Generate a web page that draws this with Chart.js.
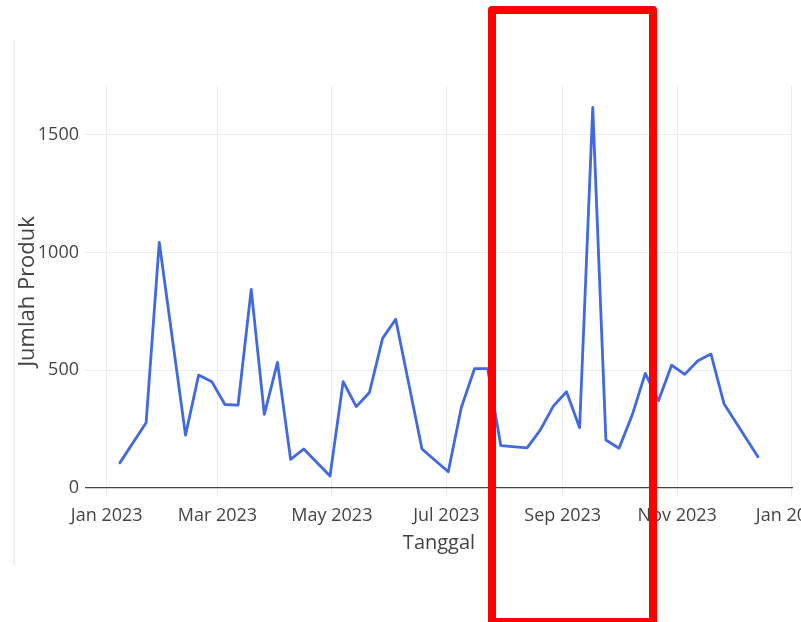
<!DOCTYPE html>
<html>
<head>
<meta charset="utf-8">
<script src="https://cdn.jsdelivr.net/npm/chart.js@4.4.1/dist/chart.umd.min.js"></script>
<style>
  html, body { margin: 0; padding: 0; background: #fff; overflow: hidden; width: 801px; height: 622px; }
  #wrap { position: absolute; left: 0; top: 0; width: 850px; height: 622px; }
  #leftline { position: absolute; left: 13px; top: 40px; width: 2px; height: 525px; background: #f1f1f1; }
  #highlight { position: absolute; left: 488px; top: 6px; width: 169px; height: 620px; box-sizing: border-box; border: 8px solid #ff0000; border-radius: 4px; pointer-events: none; }
</style>
</head>
<body>
<div id="leftline"></div>
<div id="wrap"><canvas id="c" width="850" height="622"></canvas></div>
<div id="highlight"></div>
<script>
// ---- data ----
const dates = [
  "2023-01-08","2023-01-22","2023-01-29","2023-02-12","2023-02-19","2023-02-26",
  "2023-03-05","2023-03-12","2023-03-19","2023-03-26","2023-04-02","2023-04-09",
  "2023-04-16","2023-04-30","2023-05-07","2023-05-14","2023-05-21","2023-05-28",
  "2023-06-04","2023-06-18","2023-07-02","2023-07-09","2023-07-16","2023-07-23",
  "2023-07-30","2023-08-13","2023-08-20","2023-08-27","2023-09-03","2023-09-10",
  "2023-09-17","2023-09-24","2023-10-01","2023-10-08","2023-10-15","2023-10-22",
  "2023-10-29","2023-11-05","2023-11-12","2023-11-19","2023-11-26","2023-12-14"
];
const jumlahProduk = [
  107, 277, 1044, 225, 480, 452,
  355, 352, 844, 313, 534, 122,
  166, 51, 452, 346, 406, 636,
  717, 166, 69, 343, 507, 507,
  180, 171, 246, 348, 409, 256,
  1617, 204, 169, 310, 487, 371,
  522, 483, 541, 569, 357, 133
];
const xTickDates = ["2023-01-01","2023-03-01","2023-05-01","2023-07-01","2023-09-01","2023-11-01","2024-01-01"];
const xTickLabels = ["Jan 2023","Mar 2023","May 2023","Jul 2023","Sep 2023","Nov 2023","Jan 2024"];
const yTickValues = [0, 500, 1000, 1500];
const xTitle = "Tanggal";
const yTitle = "Jumlah Produk";

// ---- build ----
const DAY = 86400000;
const t0 = Date.parse("2023-01-01");
const points = dates.map((d, i) => ({ x: Date.parse(d), y: jumlahProduk[i] }));
const xTicks = xTickDates.map(d => Date.parse(d));

const FONT = "'Open Sans', 'DejaVu Sans', sans-serif";
const TXT = "#444";

new Chart(document.getElementById("c"), {
  type: "line",
  data: {
    datasets: [{
      data: points,
      borderColor: "#4169e1",
      borderWidth: 2.8,
      pointRadius: 0,
      tension: 0,
      fill: false,
      borderJoinStyle: "round",
      borderCapStyle: "round"
    }]
  },
  options: {
    responsive: false,
    animation: false,
    layout: { padding: { left: 0, top: 86, right: 57, bottom: 0 } },
    plugins: { legend: { display: false }, tooltip: { enabled: false } },
    scales: {
      x: {
        type: "linear",
        min: t0 - 11.56 * DAY,
        max: t0 + 365.7 * DAY,
        afterBuildTicks: s => { s.ticks = xTicks.map(v => ({ value: v })); },
        afterFit: s => { s.height = 125; },
        border: { display: false },
        grid: { color: "#ececec", lineWidth: 1, drawTicks: false },
        ticks: {
          autoSkip: false, maxRotation: 0, padding: 8,
          color: TXT, font: { family: FONT, size: 18 },
          callback: (v, i) => xTickLabels[i]
        },
        title: {
          display: true, text: xTitle, color: TXT,
          font: { family: FONT, size: 20 },
          padding: { top: 0, bottom: 67 }
        }
      },
      y: {
        type: "linear",
        min: -38,
        max: 1708,
        afterBuildTicks: s => { s.ticks = yTickValues.map(v => ({ value: v })); },
        afterFit: s => { s.width = 85; },
        border: { display: false },
        grid: {
          color: ctx => (ctx.tick && ctx.tick.value === 0) ? "#444444" : "#ececec",
          lineWidth: ctx => (ctx.tick && ctx.tick.value === 0) ? 1.2 : 1,
          drawTicks: false
        },
        ticks: {
          padding: 6, color: TXT, font: { family: FONT, size: 18 },
          callback: v => String(v)
        },
        title: {
          display: true, text: yTitle, color: TXT,
          font: { family: FONT, size: 22 },
          padding: { top: 15, bottom: 0 }
        }
      }
    }
  }
});
</script>
</body>
</html>
